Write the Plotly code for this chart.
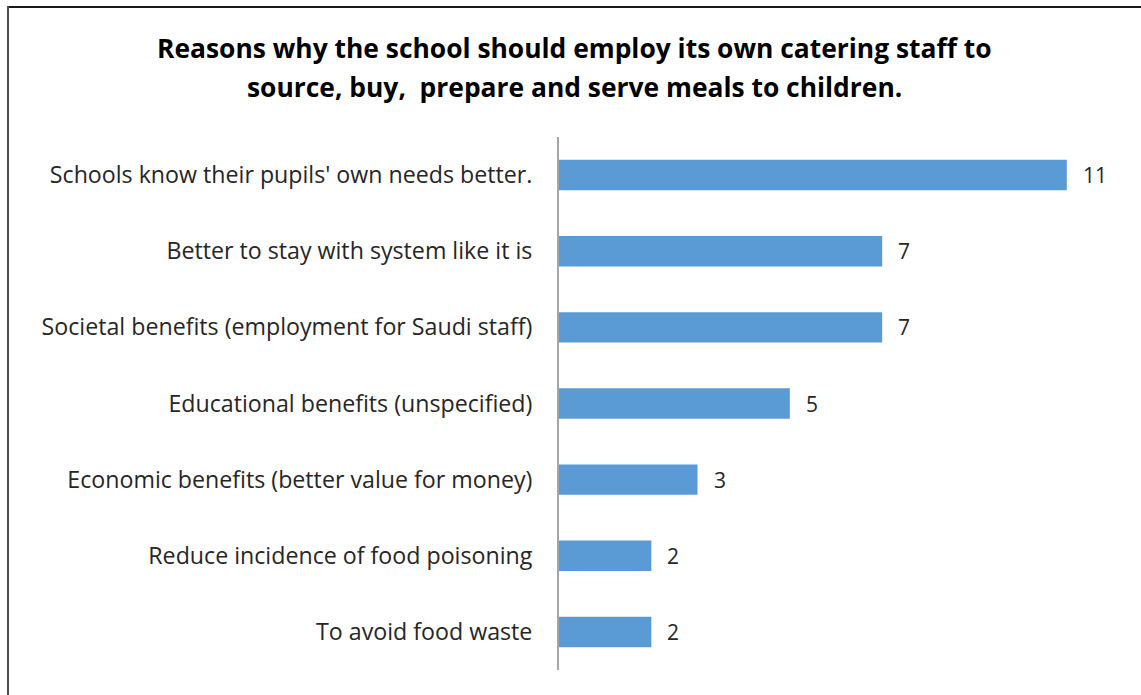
import plotly.graph_objects as go

reasons = [
    "Schools know their pupils' own needs better.",
    "Better to stay with system like it is",
    "Societal benefits (employment for Saudi staff)",
    "Educational benefits (unspecified)",
    "Economic benefits (better value for money)",
    "Reduce incidence of food poisoning",
    "To avoid food waste",
]
counts = [11, 7, 7, 5, 3, 2, 2]

title_lines = [
    "Reasons why the school should employ its own catering staff to",
    "source, buy,  prepare and serve meals to children.",
]

W, H = 1141, 695
ML, MR, MT, MB = 559, 28, 137, 25
pw, ph = W - ML - MR, H - MT - MB

def px_x(px):
    return (px - ML) / pw

def px_y(py):
    return (H - MB - py) / ph

FONT = "'Open Sans', Lato, sans-serif"

fig = go.Figure(
    go.Bar(
        x=counts,
        y=reasons,
        orientation="h",
        width=0.4,
        marker=dict(color="#5B9BD5", line=dict(width=0)),
        hoverinfo="x+y",
    )
)

# value labels beside each bar
for r, c in zip(reasons, counts):
    fig.add_annotation(
        x=c, y=r, text=str(c), showarrow=False,
        xanchor="left", xshift=14,
        font=dict(family=FONT, size=21, color="#262626"),
    )

# two-line bold title
for i, line in enumerate(title_lines):
    fig.add_annotation(
        xref="paper", yref="paper",
        x=px_x(574), y=px_y(48 + 39 * i),
        text=line, showarrow=False,
        xanchor="center", yanchor="middle",
        font=dict(family=FONT, size=26.4, color="#000000", weight="bold"),
    )

# frame lines along the top and left edge
fig.add_shape(type="line", xref="paper", yref="paper",
              x0=px_x(8), x1=px_x(W + 5), y0=px_y(7), y1=px_y(7),
              line=dict(color="#1a1a1a", width=2))
fig.add_shape(type="line", xref="paper", yref="paper",
              x0=px_x(8), x1=px_x(8), y0=px_y(6), y1=px_y(H + 5),
              line=dict(color="#4d4d4d", width=2))

fig.update_layout(
    width=W, height=H,
    margin=dict(l=ML, r=MR, t=MT, b=MB),
    paper_bgcolor="white", plot_bgcolor="white",
    showlegend=False,
    xaxis=dict(range=[0, 12], visible=False, showgrid=False, zeroline=False),
    yaxis=dict(
        autorange="reversed",
        showline=True, linecolor="#a6a6a6", linewidth=2,
        ticks="", ticklabelstandoff=20,
        tickfont=dict(family=FONT, size=23.2, color="#262626"),
        showgrid=False, zeroline=False,
    ),
)

fig.write_html("out.html")
